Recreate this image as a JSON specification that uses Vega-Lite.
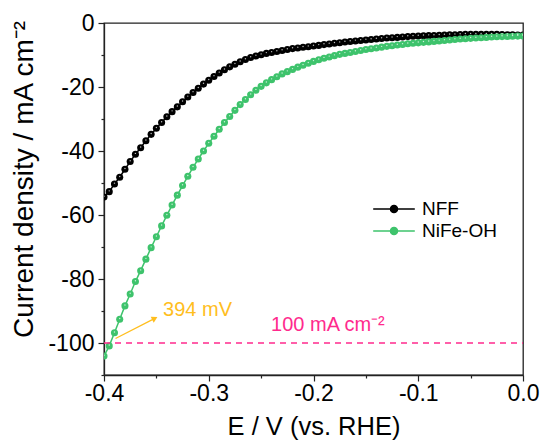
{
  "$schema": "https://vega.github.io/schema/vega-lite/v6.json",
  "width": 419,
  "height": 352,
  "autosize": {"type": "none"},
  "padding": {"left": 104, "top": 23, "right": 18, "bottom": 72},
  "background": "white",
  "config": {
    "font": "Liberation Sans",
    "view": {"stroke": "#222222", "strokeWidth": 1.3},
    "axis": {
      "grid": false,
      "domainColor": "#222222",
      "domainWidth": 1.3,
      "tickColor": "#222222",
      "tickWidth": 1.2,
      "labelColor": "black",
      "labelFont": "Liberation Sans",
      "labelFontSize": 23,
      "titleFont": "Liberation Sans",
      "titleFontWeight": "normal",
      "titleColor": "black"
    }
  },
  "resolve": {"axis": {"y": "independent"}},
  "datasets": {
    "lsv": [
      {"E": -0.400, "J": -54.4, "s": "NFF"},
      {"E": -0.395, "J": -52.7, "s": "NFF"},
      {"E": -0.390, "J": -50.3, "s": "NFF"},
      {"E": -0.385, "J": -48.2, "s": "NFF"},
      {"E": -0.380, "J": -45.7, "s": "NFF"},
      {"E": -0.375, "J": -43.3, "s": "NFF"},
      {"E": -0.370, "J": -41.0, "s": "NFF"},
      {"E": -0.365, "J": -39.0, "s": "NFF"},
      {"E": -0.360, "J": -36.8, "s": "NFF"},
      {"E": -0.355, "J": -34.8, "s": "NFF"},
      {"E": -0.350, "J": -32.9, "s": "NFF"},
      {"E": -0.345, "J": -31.1, "s": "NFF"},
      {"E": -0.340, "J": -29.3, "s": "NFF"},
      {"E": -0.335, "J": -27.7, "s": "NFF"},
      {"E": -0.330, "J": -26.2, "s": "NFF"},
      {"E": -0.325, "J": -24.6, "s": "NFF"},
      {"E": -0.320, "J": -23.1, "s": "NFF"},
      {"E": -0.315, "J": -21.7, "s": "NFF"},
      {"E": -0.310, "J": -20.4, "s": "NFF"},
      {"E": -0.305, "J": -19.1, "s": "NFF"},
      {"E": -0.300, "J": -17.9, "s": "NFF"},
      {"E": -0.295, "J": -16.7, "s": "NFF"},
      {"E": -0.290, "J": -15.6, "s": "NFF"},
      {"E": -0.285, "J": -14.6, "s": "NFF"},
      {"E": -0.280, "J": -13.7, "s": "NFF"},
      {"E": -0.275, "J": -12.9, "s": "NFF"},
      {"E": -0.270, "J": -12.1, "s": "NFF"},
      {"E": -0.265, "J": -11.4, "s": "NFF"},
      {"E": -0.260, "J": -10.8, "s": "NFF"},
      {"E": -0.255, "J": -10.3, "s": "NFF"},
      {"E": -0.250, "J": -9.9, "s": "NFF"},
      {"E": -0.245, "J": -9.5, "s": "NFF"},
      {"E": -0.240, "J": -9.2, "s": "NFF"},
      {"E": -0.235, "J": -8.9, "s": "NFF"},
      {"E": -0.230, "J": -8.6, "s": "NFF"},
      {"E": -0.225, "J": -8.3, "s": "NFF"},
      {"E": -0.220, "J": -8.0, "s": "NFF"},
      {"E": -0.215, "J": -7.8, "s": "NFF"},
      {"E": -0.210, "J": -7.6, "s": "NFF"},
      {"E": -0.205, "J": -7.4, "s": "NFF"},
      {"E": -0.200, "J": -7.2, "s": "NFF"},
      {"E": -0.195, "J": -7.0, "s": "NFF"},
      {"E": -0.190, "J": -6.75, "s": "NFF"},
      {"E": -0.185, "J": -6.55, "s": "NFF"},
      {"E": -0.180, "J": -6.35, "s": "NFF"},
      {"E": -0.175, "J": -6.15, "s": "NFF"},
      {"E": -0.170, "J": -5.95, "s": "NFF"},
      {"E": -0.165, "J": -5.8, "s": "NFF"},
      {"E": -0.160, "J": -5.6, "s": "NFF"},
      {"E": -0.155, "J": -5.45, "s": "NFF"},
      {"E": -0.150, "J": -5.3, "s": "NFF"},
      {"E": -0.145, "J": -5.15, "s": "NFF"},
      {"E": -0.140, "J": -5.0, "s": "NFF"},
      {"E": -0.135, "J": -4.85, "s": "NFF"},
      {"E": -0.130, "J": -4.7, "s": "NFF"},
      {"E": -0.125, "J": -4.6, "s": "NFF"},
      {"E": -0.120, "J": -4.5, "s": "NFF"},
      {"E": -0.115, "J": -4.35, "s": "NFF"},
      {"E": -0.110, "J": -4.25, "s": "NFF"},
      {"E": -0.105, "J": -4.15, "s": "NFF"},
      {"E": -0.100, "J": -4.1, "s": "NFF"},
      {"E": -0.095, "J": -4.0, "s": "NFF"},
      {"E": -0.090, "J": -3.95, "s": "NFF"},
      {"E": -0.085, "J": -3.9, "s": "NFF"},
      {"E": -0.080, "J": -3.85, "s": "NFF"},
      {"E": -0.075, "J": -3.75, "s": "NFF"},
      {"E": -0.070, "J": -3.7, "s": "NFF"},
      {"E": -0.065, "J": -3.65, "s": "NFF"},
      {"E": -0.060, "J": -3.6, "s": "NFF"},
      {"E": -0.055, "J": -3.55, "s": "NFF"},
      {"E": -0.050, "J": -3.5, "s": "NFF"},
      {"E": -0.045, "J": -3.5, "s": "NFF"},
      {"E": -0.040, "J": -3.5, "s": "NFF"},
      {"E": -0.035, "J": -3.5, "s": "NFF"},
      {"E": -0.030, "J": -3.5, "s": "NFF"},
      {"E": -0.025, "J": -3.55, "s": "NFF"},
      {"E": -0.020, "J": -3.6, "s": "NFF"},
      {"E": -0.015, "J": -3.65, "s": "NFF"},
      {"E": -0.010, "J": -3.7, "s": "NFF"},
      {"E": -0.005, "J": -3.75, "s": "NFF"},
      {"E": 0.000, "J": -3.8, "s": "NFF"},
      {"E": -0.400, "J": -104.1, "s": "NiFe-OH"},
      {"E": -0.395, "J": -100.9, "s": "NiFe-OH"},
      {"E": -0.390, "J": -96.8, "s": "NiFe-OH"},
      {"E": -0.385, "J": -92.6, "s": "NiFe-OH"},
      {"E": -0.380, "J": -88.4, "s": "NiFe-OH"},
      {"E": -0.375, "J": -84.7, "s": "NiFe-OH"},
      {"E": -0.370, "J": -80.8, "s": "NiFe-OH"},
      {"E": -0.365, "J": -77.4, "s": "NiFe-OH"},
      {"E": -0.360, "J": -73.8, "s": "NiFe-OH"},
      {"E": -0.355, "J": -70.2, "s": "NiFe-OH"},
      {"E": -0.350, "J": -66.8, "s": "NiFe-OH"},
      {"E": -0.345, "J": -63.4, "s": "NiFe-OH"},
      {"E": -0.340, "J": -60.1, "s": "NiFe-OH"},
      {"E": -0.335, "J": -56.9, "s": "NiFe-OH"},
      {"E": -0.330, "J": -53.8, "s": "NiFe-OH"},
      {"E": -0.325, "J": -50.8, "s": "NiFe-OH"},
      {"E": -0.320, "J": -47.9, "s": "NiFe-OH"},
      {"E": -0.315, "J": -45.1, "s": "NiFe-OH"},
      {"E": -0.310, "J": -42.5, "s": "NiFe-OH"},
      {"E": -0.305, "J": -40.0, "s": "NiFe-OH"},
      {"E": -0.300, "J": -37.6, "s": "NiFe-OH"},
      {"E": -0.295, "J": -35.4, "s": "NiFe-OH"},
      {"E": -0.290, "J": -33.2, "s": "NiFe-OH"},
      {"E": -0.285, "J": -31.1, "s": "NiFe-OH"},
      {"E": -0.280, "J": -29.2, "s": "NiFe-OH"},
      {"E": -0.275, "J": -27.3, "s": "NiFe-OH"},
      {"E": -0.270, "J": -25.5, "s": "NiFe-OH"},
      {"E": -0.265, "J": -23.9, "s": "NiFe-OH"},
      {"E": -0.260, "J": -22.4, "s": "NiFe-OH"},
      {"E": -0.255, "J": -21.0, "s": "NiFe-OH"},
      {"E": -0.250, "J": -19.8, "s": "NiFe-OH"},
      {"E": -0.245, "J": -18.7, "s": "NiFe-OH"},
      {"E": -0.240, "J": -17.7, "s": "NiFe-OH"},
      {"E": -0.235, "J": -16.8, "s": "NiFe-OH"},
      {"E": -0.230, "J": -15.9, "s": "NiFe-OH"},
      {"E": -0.225, "J": -15.2, "s": "NiFe-OH"},
      {"E": -0.220, "J": -14.5, "s": "NiFe-OH"},
      {"E": -0.215, "J": -13.8, "s": "NiFe-OH"},
      {"E": -0.210, "J": -13.2, "s": "NiFe-OH"},
      {"E": -0.205, "J": -12.6, "s": "NiFe-OH"},
      {"E": -0.200, "J": -12.0, "s": "NiFe-OH"},
      {"E": -0.195, "J": -11.5, "s": "NiFe-OH"},
      {"E": -0.190, "J": -11.0, "s": "NiFe-OH"},
      {"E": -0.185, "J": -10.6, "s": "NiFe-OH"},
      {"E": -0.180, "J": -10.2, "s": "NiFe-OH"},
      {"E": -0.175, "J": -9.8, "s": "NiFe-OH"},
      {"E": -0.170, "J": -9.5, "s": "NiFe-OH"},
      {"E": -0.165, "J": -9.2, "s": "NiFe-OH"},
      {"E": -0.160, "J": -8.9, "s": "NiFe-OH"},
      {"E": -0.155, "J": -8.6, "s": "NiFe-OH"},
      {"E": -0.150, "J": -8.3, "s": "NiFe-OH"},
      {"E": -0.145, "J": -8.05, "s": "NiFe-OH"},
      {"E": -0.140, "J": -7.8, "s": "NiFe-OH"},
      {"E": -0.135, "J": -7.55, "s": "NiFe-OH"},
      {"E": -0.130, "J": -7.3, "s": "NiFe-OH"},
      {"E": -0.125, "J": -7.1, "s": "NiFe-OH"},
      {"E": -0.120, "J": -6.9, "s": "NiFe-OH"},
      {"E": -0.115, "J": -6.7, "s": "NiFe-OH"},
      {"E": -0.110, "J": -6.5, "s": "NiFe-OH"},
      {"E": -0.105, "J": -6.35, "s": "NiFe-OH"},
      {"E": -0.100, "J": -6.2, "s": "NiFe-OH"},
      {"E": -0.095, "J": -6.05, "s": "NiFe-OH"},
      {"E": -0.090, "J": -5.9, "s": "NiFe-OH"},
      {"E": -0.085, "J": -5.75, "s": "NiFe-OH"},
      {"E": -0.080, "J": -5.6, "s": "NiFe-OH"},
      {"E": -0.075, "J": -5.45, "s": "NiFe-OH"},
      {"E": -0.070, "J": -5.3, "s": "NiFe-OH"},
      {"E": -0.065, "J": -5.15, "s": "NiFe-OH"},
      {"E": -0.060, "J": -5.0, "s": "NiFe-OH"},
      {"E": -0.055, "J": -4.9, "s": "NiFe-OH"},
      {"E": -0.050, "J": -4.8, "s": "NiFe-OH"},
      {"E": -0.045, "J": -4.7, "s": "NiFe-OH"},
      {"E": -0.040, "J": -4.6, "s": "NiFe-OH"},
      {"E": -0.035, "J": -4.5, "s": "NiFe-OH"},
      {"E": -0.030, "J": -4.4, "s": "NiFe-OH"},
      {"E": -0.025, "J": -4.3, "s": "NiFe-OH"},
      {"E": -0.020, "J": -4.25, "s": "NiFe-OH"},
      {"E": -0.015, "J": -4.2, "s": "NiFe-OH"},
      {"E": -0.010, "J": -4.15, "s": "NiFe-OH"},
      {"E": -0.005, "J": -4.1, "s": "NiFe-OH"},
      {"E": 0.000, "J": -4.1, "s": "NiFe-OH"}
    ],
    "ref": [{"E": -0.4, "E2": 0.0, "J": -100}],
    "arrow": [{"E": -0.389, "J": -98.6, "E2": -0.3515, "J2": -92.3}],
    "head": [{"E": -0.3515, "J": -92.3}],
    "lab394": [{"E": -0.3436, "J": -91.6, "t": "394 mV"}],
    "lab100": [{"E": -0.2405, "J": -96.2, "t": "100 mA cm⁻²"}]
  },
  "layer": [
    {
      "data": {"name": "lsv"},
      "mark": {"type": "line", "strokeWidth": 1.5, "clip": true},
      "encoding": {
        "x": {
          "field": "E", "type": "quantitative",
          "scale": {"domain": [-0.4, 0], "nice": false, "zero": false},
          "axis": {
            "title": "E / V (vs. RHE)",
            "titleFontSize": 25.5,
            "values": [-0.4, -0.35, -0.3, -0.25, -0.2, -0.15, -0.1, -0.05, 0],
            "labelExpr": "abs(round(datum.value*100)) % 10 === 0 ? replace(format(datum.value, '.1f'), '−', '-') : ''",
            "tickSize": {"condition": {"test": "abs(round(datum.value*100)) % 10 === 0", "value": 6}, "value": 3},
            "labelPadding": 1,
            "labelFlush": false,
            "labelOverlap": false,
            "titlePadding": 9
          }
        },
        "y": {
          "field": "J", "type": "quantitative",
          "scale": {"domain": [-110, 0], "nice": false, "zero": false},
          "axis": {
            "orient": "left",
            "title": "Current density / mA cm⁻²",
            "titleFontSize": 28,
            "titleY": 156,
            "values": [0, -20, -40, -60, -80, -100],
            "format": "d",
            "labelExpr": "replace(datum.label, '−', '-')",
            "tickSize": 6,
            "labelPadding": 4,
            "labelFlush": false,
            "labelOverlap": false,
            "titlePadding": 9
          }
        },
        "color": {
          "field": "s", "type": "nominal",
          "scale": {"domain": ["NFF", "NiFe-OH"], "range": ["#000000", "#3ec36c"]},
          "legend": {
            "title": null,
            "orient": "none",
            "legendX": 268,
            "legendY": 175,
            "padding": 0,
            "rowPadding": 0,
            "clipHeight": 22,
            "symbolType": "M-1,0H-0.17M0.17,0H1M-0.17,0A0.17,0.17 0 1,0 0.17,0A0.17,0.17 0 1,0 -0.17,0Z",
            "symbolSize": 1730,
            "symbolStrokeWidth": 1.5,
            "labelFontSize": 19,
            "labelFont": "Liberation Sans",
            "labelColor": "black",
            "labelOffset": 6,
            "encode": {
              "symbols": {
                "update": {
                  "stroke": {"scale": "color", "field": "value"},
                  "fill": {"scale": "color", "field": "value"},
                  "strokeWidth": {"value": 1.5},
                  "opacity": {"value": 1}
                }
              }
            }
          }
        }
      }
    },
    {
      "data": {"name": "lsv"},
      "mark": {"type": "point", "filled": true, "size": 50, "opacity": 1, "clip": true},
      "encoding": {
        "x": {"field": "E", "type": "quantitative"},
        "y": {
          "field": "J", "type": "quantitative",
          "axis": {
            "orient": "left",
            "title": null,
            "values": [-10, -30, -50, -70, -90, -110],
            "labels": false,
            "domain": false,
            "tickSize": 3
          }
        },
        "color": {"field": "s", "type": "nominal"}
      }
    },
    {
      "data": {"name": "lsv"},
      "mark": {"type": "point", "filled": true, "size": 2, "color": "white", "opacity": 0.75, "yOffset": -0.8, "clip": true},
      "encoding": {
        "x": {"field": "E", "type": "quantitative"},
        "y": {"field": "J", "type": "quantitative", "axis": null}
      }
    },
    {
      "data": {"name": "ref"},
      "mark": {"type": "rule", "color": "#ff2a8d", "strokeWidth": 1.5, "strokeDash": [6, 5]},
      "encoding": {
        "x": {"field": "E", "type": "quantitative"},
        "x2": {"field": "E2"},
        "y": {"field": "J", "type": "quantitative", "axis": null}
      }
    },
    {
      "data": {"name": "lab100"},
      "mark": {"type": "text", "color": "#ff2a8d", "fontSize": 20, "font": "Liberation Sans", "align": "left", "baseline": "alphabetic"},
      "encoding": {
        "x": {"field": "E", "type": "quantitative"},
        "y": {"field": "J", "type": "quantitative", "axis": null},
        "text": {"field": "t"}
      }
    },
    {
      "data": {"name": "arrow"},
      "mark": {"type": "rule", "color": "#ffbe1e", "strokeWidth": 1.3},
      "encoding": {
        "x": {"field": "E", "type": "quantitative"},
        "y": {"field": "J", "type": "quantitative", "axis": null},
        "x2": {"field": "E2"},
        "y2": {"field": "J2"}
      }
    },
    {
      "data": {"name": "head"},
      "mark": {"type": "point", "shape": "triangle-right", "filled": true, "size": 45, "angle": 333, "color": "#ffbe1e", "opacity": 1},
      "encoding": {
        "x": {"field": "E", "type": "quantitative"},
        "y": {"field": "J", "type": "quantitative", "axis": null}
      }
    },
    {
      "data": {"name": "lab394"},
      "mark": {"type": "text", "color": "#ffbe1e", "fontSize": 20, "font": "Liberation Sans", "align": "left", "baseline": "alphabetic"},
      "encoding": {
        "x": {"field": "E", "type": "quantitative"},
        "y": {"field": "J", "type": "quantitative", "axis": null},
        "text": {"field": "t"}
      }
    }
  ]
}
